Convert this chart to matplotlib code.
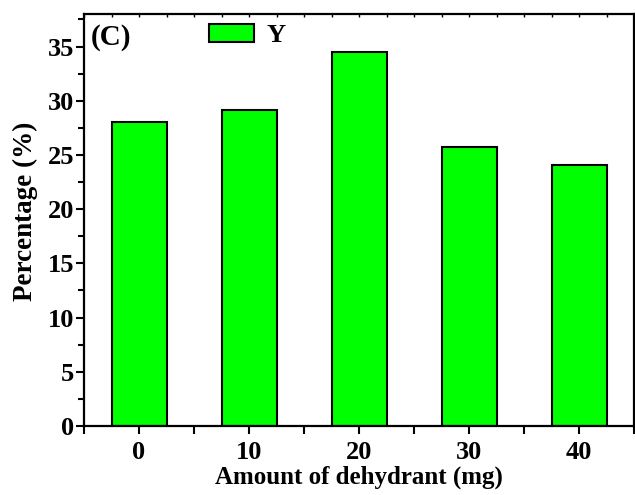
import matplotlib.pyplot as plt
from matplotlib.ticker import MultipleLocator

# Dehydrant amount vs. Y percentage
amounts = [0, 10, 20, 30, 40]
percent_y = [28.0, 29.1, 34.5, 25.7, 24.1]

plt.rcParams['font.family'] = 'Liberation Serif'
plt.rcParams['font.weight'] = 'bold'

fig = plt.figure(figsize=(6.35, 4.95), dpi=100)
ax = fig.add_axes([84 / 635, 1 - 426 / 495, 550 / 635, 412 / 495])

ax.bar(amounts, percent_y, width=5, color='#00ff00', edgecolor='black',
       linewidth=1.5, label='Y')

ax.set_xlim(-5, 45)
ax.set_ylim(0, 38)
ax.set_xticks(amounts)
ax.xaxis.set_minor_locator(MultipleLocator(5))
ax.yaxis.set_major_locator(MultipleLocator(5))
ax.yaxis.set_minor_locator(MultipleLocator(2.5))

for s in ax.spines.values():
    s.set_linewidth(1.6)

ax.tick_params(axis='x', which='major', direction='out', length=6,
               width=1.5, labelsize=19, pad=5)
ax.tick_params(axis='y', which='major', direction='out', length=6,
               width=1.5, labelsize=19, pad=1)
ax.tick_params(axis='x', which='minor', direction='out', length=6,
               width=1.5)
ax.tick_params(axis='y', which='minor', direction='out', length=4,
               width=1.5)

# small inward ticks along the top edge
top = ax.secondary_xaxis('top')
top.xaxis.set_major_locator(MultipleLocator(2.5))
top.tick_params(direction='in', length=2, width=1, labeltop=False)
top.spines['top'].set_visible(False)

ax.set_xlabel('Amount of dehydrant (mg)', fontsize=18, fontweight='bold',
              labelpad=1)
ax.set_ylabel('Percentage (%)', fontsize=19.5, fontweight='bold', labelpad=0)
ax.yaxis.set_label_coords(-0.084, 0.52)

ax.text(0.013, 0.975, '(C)', transform=ax.transAxes, fontsize=21,
        fontweight='bold', va='top', ha='left')

ax.legend(loc='upper left', bbox_to_anchor=(0.227, 0.976), frameon=False,
          fontsize=19, handlelength=1.7, handleheight=0.7, handletextpad=0.5,
          borderpad=0, borderaxespad=0)

fig.savefig('out.png', dpi=100)
